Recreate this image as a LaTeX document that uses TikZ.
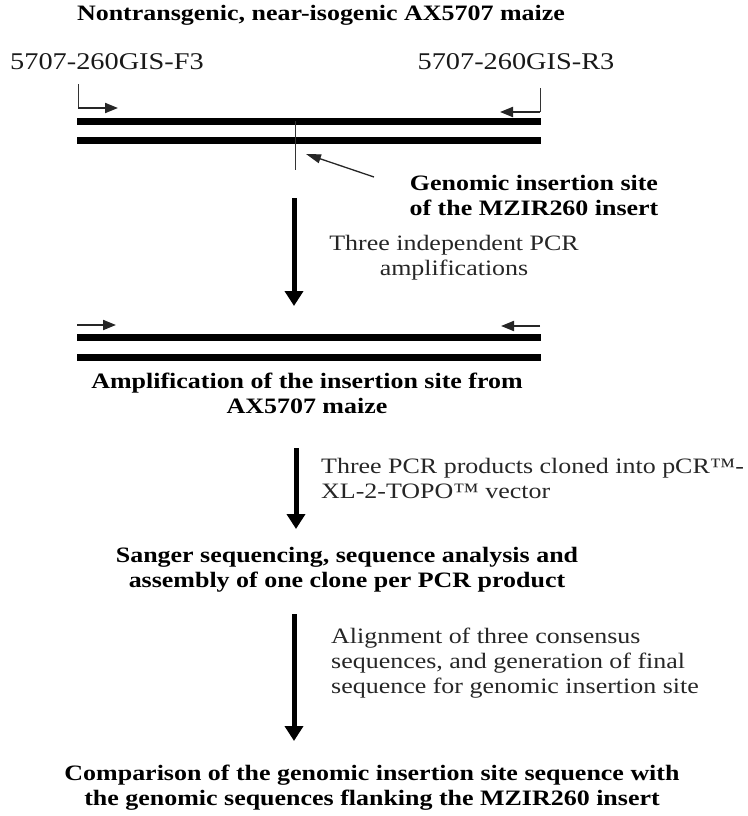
\documentclass[tikz,border=0pt]{standalone}
\usepackage{fontspec}
\setmainfont{Liberation Serif}
\usetikzlibrary{arrows.meta}
\newcommand{\stretchtxt}[1]{\scalebox{1.18}[1]{#1}}
\begin{document}
\begin{tikzpicture}[x=1pt,y=-1pt,
  hd/.style={font=\fontsize{22}{25}\selectfont\bfseries, align=center, inner sep=0},
  bodytxt/.style={font=\fontsize{22}{25}\selectfont, text=black!85, align=left, inner sep=0},
  primer/.style={font=\fontsize{24}{28}\selectfont, text=black!90, inner sep=0},
  dna/.style={line width=7pt},
  thinline/.style={line width=1pt, black!80},
  bigarrow/.style={line width=5pt, -{Triangle[width=18pt,length=15pt]}},
  primarrow/.style={line width=2pt, black!85, -{Triangle[width=10pt,length=13pt]}},
  ptr/.style={line width=1.3pt, black!85, -{Triangle[width=9pt,length=15pt]}}
]
\useasboundingbox (0,0) rectangle (747,816);
% titles and labels
\node[hd] (title) at (321,15) {\stretchtxt{Nontransgenic, near-isogenic AX5707 maize}};
\node[primer] (f3) at (107,62) {\stretchtxt{5707-260GIS-F3}};
\node[primer] (r3) at (516,62) {\stretchtxt{5707-260GIS-R3}};
% first DNA
\coordinate (ft1) at (78,84); \coordinate (ft2) at (78,108);
\coordinate (rt1) at (540,88); \coordinate (rt2) at (540,112);
\draw[thinline] (ft1) -- (ft2);
\draw[thinline] (rt1) -- (rt2);
\coordinate (fa1) at (78,108); \coordinate (fa2) at (118,108);
\coordinate (ra1) at (540,112); \coordinate (ra2) at (500,112);
\draw[primarrow] (fa1) -- (fa2);
\draw[primarrow] (ra1) -- (ra2);
\coordinate (d1a) at (77,121); \coordinate (d1b) at (541,121);
\coordinate (d2a) at (77,140); \coordinate (d2b) at (541,140);
\draw[dna] (d1a) -- (d1b);
\draw[dna] (d2a) -- (d2b);
\coordinate (ins1) at (295,121); \coordinate (ins2) at (295,170);
\draw[thinline] (ins1) -- (ins2);
\node[hd] (gis) at (534,195) {\stretchtxt{Genomic insertion site}\\\stretchtxt{of the MZIR260 insert}};
\coordinate (pt1) at (374,177); \coordinate (pt2) at (306,154);
\draw[ptr] (pt1) -- (pt2);
% arrow 1
\coordinate (a1s) at (294,198); \coordinate (a1e) at (294,306);
\draw[bigarrow] (a1s) -- (a1e);
\node[bodytxt, align=center] (t1) at (454,258) {\stretchtxt{Three independent PCR}\\\stretchtxt{amplifications}};
% second DNA
\coordinate (gfa1) at (77,325); \coordinate (gfa2) at (116,325);
\coordinate (gra1) at (540,326); \coordinate (gra2) at (501,326);
\draw[primarrow] (gfa1) -- (gfa2);
\draw[primarrow] (gra1) -- (gra2);
\coordinate (e1a) at (77,337); \coordinate (e1b) at (541,337);
\coordinate (e2a) at (77,357); \coordinate (e2b) at (541,357);
\draw[dna] (e1a) -- (e1b);
\draw[dna] (e2a) -- (e2b);
\node[hd] (amp) at (307,393) {\stretchtxt{Amplification of the insertion site from}\\\stretchtxt{AX5707 maize}};
% arrow 2
\coordinate (a2s) at (296,448); \coordinate (a2e) at (296,529);
\draw[bigarrow] (a2s) -- (a2e);
\node[bodytxt, anchor=west] (t2) at (321,478) {\stretchtxt{Three PCR products cloned into pCR™-}\\\stretchtxt{XL-2-TOPO™ vector}};
\node[hd] (sang) at (347,570) {\stretchtxt{Sanger sequencing, sequence analysis and}\\\stretchtxt{assembly of one clone per PCR product}};
% arrow 3
\coordinate (a3s) at (294,614); \coordinate (a3e) at (294,741);
\draw[bigarrow] (a3s) -- (a3e);
\node[bodytxt, anchor=west] (t3) at (331,663) {\stretchtxt{Alignment of three consensus}\\\stretchtxt{sequences, and generation of final}\\\stretchtxt{sequence for genomic insertion site}};
\node[hd] (comp) at (372,788) {\stretchtxt{Comparison of the genomic insertion site sequence with}\\\stretchtxt{the genomic sequences flanking the MZIR260 insert}};
\end{tikzpicture}
\end{document}
